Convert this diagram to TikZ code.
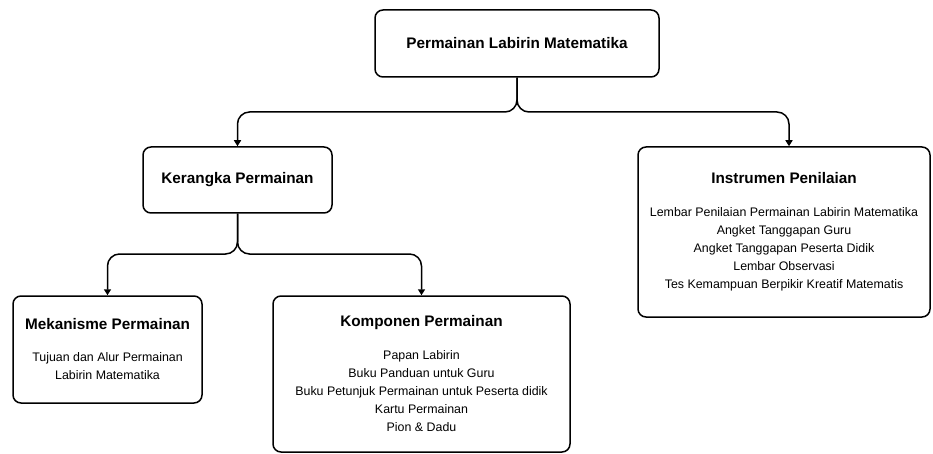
\documentclass[tikz,border=0pt]{standalone}
\usepackage{fontspec}
\setmainfont{Liberation Sans}
\usetikzlibrary{arrows.meta}
\usetikzlibrary{positioning}

\begin{document}
\begin{tikzpicture}[x=1pt, y=-1pt,
		box/.style={draw, line width=1.5pt, rounded corners=8pt, align=center, inner sep=0pt},
		link/.style={line width=1.5pt, rounded corners=12pt, -{Triangle[length=6pt, width=7pt]}},
		head/.style={font=\fontsize{15.3}{17}\selectfont\bfseries},
		body/.style={font=\fontsize{12.4}{18}\selectfont}]
			\useasboundingbox (0, 0) rectangle (933, 454);
			\node at (517, 43.5) [box, minimum width=284, minimum height=67, head] (game) {Permainan Labirin Matematika};
			\node at (237.5, 180) [box, minimum width=189, minimum height=66, head] (frame) {Kerangka Permainan};
			\node at (784, 232) [box, minimum width=292, minimum height=170, body] (tool) {{\fontsize{15.3}{17}\selectfont\bfseries Instrumen Penilaian}\\[15pt]
				Lembar Penilaian Permainan Labirin Matematika\\ Angket Tanggapan Guru\\ Angket Tanggapan Peserta Didik\\ Lembar Observasi\\ Tes Kemampuan Berpikir Kreatif Matematis};
			\node at (107.5, 349.5) [box, minimum width=189, minimum height=107, body] (mech) {{\fontsize{15.3}{17}\selectfont\bfseries Mekanisme Permainan}\\[14pt]
				Tujuan dan Alur Permainan\\ Labirin Matematika};
			\node at (421.5, 374) [box, minimum width=297, minimum height=156, body] (part) {{\fontsize{15.3}{17}\selectfont\bfseries Komponen Permainan}\\[15pt]
				Papan Labirin\\ Buku Panduan untuk Guru\\ Buku Petunjuk Permainan untuk Peserta didik\\ Kartu Permainan\\ Pion \& Dadu};
			\coordinate (split1) at (517, 112);
			\coordinate (split2) at (237.5, 254);
			\draw [link] (game.south) -- (split1) -| (frame.north);
			\draw [link] (game.south) -- (split1) -| ([xshift=5pt]tool.north);
			\draw [link] (frame.south) -- (split2) -| (mech.north);
			\draw [link] (frame.south) -- (split2) -| (part.north);
		\end{tikzpicture}
\end{document}
